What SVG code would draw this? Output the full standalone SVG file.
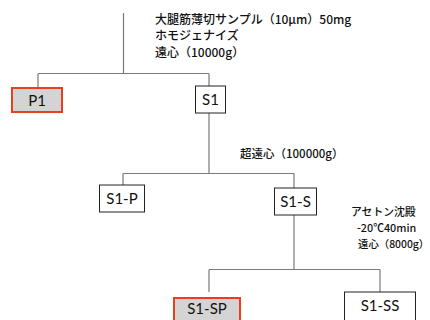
<svg xmlns="http://www.w3.org/2000/svg" width="430" height="320" viewBox="0 0 430 320">
<style>
.ln{stroke:#7a7a7a;stroke-width:1.2;fill:none}
.bx{fill:#fff;stroke:#222;stroke-width:1}
.hl{fill:#d4d4d4;stroke:#e8401c;stroke-width:2}
.lb{font-family:Lato,"Noto Sans CJK JP",sans-serif;font-size:15px;fill:#111;text-anchor:middle}
.nt{font-family:"Noto Sans CJK JP",sans-serif;font-size:12px;font-weight:500;fill:#111}
.sm{font-size:10.8px}
</style>
<rect width="430" height="320" fill="#fff"/>
<g id="connectors">
<path class="ln" d="M123.5 13V73.5M38 73.5H209M38 73.5V87M209 73.5V86"/>
<path class="ln" d="M209 113V173.5M123 173.5H294M123 173.5V185M294 173.5V188"/>
<path class="ln" d="M294 215V269.5M209 269.5H380M209 269.5V292M380 269.5V292"/>
</g>
<g id="notes">
<text class="nt" x="155" y="23.5">大腿筋薄切サンプル（10μm）50mg</text>
<text class="nt" x="155" y="40">ホモジェナイズ</text>
<text class="nt" x="155" y="56.5">遠心（10000g）</text>
<text class="nt" x="240" y="157.5" style="font-size:11.5px">超遠心（100000g）</text>
<text class="nt sm" x="351" y="216">アセトン沈殿</text>
<text class="nt sm" x="357" y="231.5">-20℃40min</text>
<text class="nt sm" x="358" y="247.5" style="font-size:10.4px">遠心（8000g）</text>
</g>
<g id="P1"><rect class="hl" x="12" y="88" width="50" height="24"/><text class="lb" x="37" y="105.5">P1</text></g>
<g id="S1"><rect class="bx" x="195.5" y="86" width="30" height="27"/><text class="lb" x="210.5" y="105">S1</text></g>
<g id="S1-P"><rect class="bx" x="99.5" y="185" width="45" height="27"/><text class="lb" x="122" y="204">S1-P</text></g>
<g id="S1-S"><rect class="bx" x="274.5" y="188" width="42" height="27"/><text class="lb" x="295.5" y="207">S1-S</text></g>
<g id="S1-SP"><rect class="hl" x="174" y="298" width="66" height="30"/><text class="lb" x="207" y="314">S1-SP</text></g>
<g id="S1-SS"><rect class="bx" x="344.5" y="292" width="71" height="34"/><text class="lb" x="380" y="311">S1-SS</text></g>
</svg>
